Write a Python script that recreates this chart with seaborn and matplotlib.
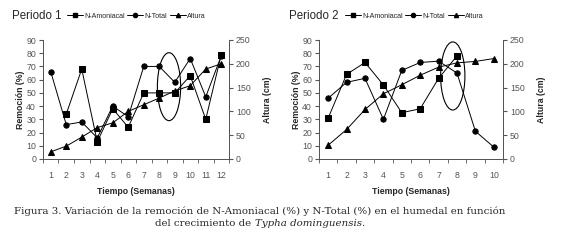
import matplotlib
matplotlib.use("Agg")
import matplotlib.pyplot as plt
import seaborn as sns
from matplotlib.lines import Line2D
from matplotlib.patches import Ellipse

# Periodo 1
weeks_p1 = [1, 2, 3, 4, 5, 6, 7, 8, 9, 10, 11, 12]
amon_weeks_p1 = [2, 3, 4, 5, 6, 7, 8, 9, 10, 11, 12]
amon_p1 = [34, 68, 13, 38, 24, 50, 50, 50, 63, 30, 79]
ntot_p1 = [66, 26, 28, 16, 40, 32, 70, 70, 58, 76, 47, 78]
altura_p1 = [15, 27, 46, 66, 76, 100, 114, 128, 143, 154, 189, 200]

# Periodo 2
weeks_p2 = [1, 2, 3, 4, 5, 6, 7, 8, 9, 10]
amon_weeks_p2 = [1, 2, 3, 4, 5, 6, 7, 8]
amon_p2 = [31, 64, 73, 56, 35, 38, 61, 78]
ntot_p2 = [46, 58, 61, 30, 67, 73, 74, 65, 21, 9]
altura_p2 = [29, 62, 104, 137, 156, 176, 193, 202, 205, 211]

sns.set_style("white")
plt.rcParams["font.family"] = ["Liberation Sans", "DejaVu Sans"]

fig = plt.figure(figsize=(5.71, 2.42), dpi=100)

grey = "#555555"
lw = 0.7
ms = 3.8


def panel(rect, weeks, aw, amon, ntot, altura, title, ell, title_x, leg_x):
    ax = fig.add_axes(rect)
    ax2 = ax.twinx()
    sns.lineplot(x=aw, y=amon, marker="s", color="black", lw=lw, markersize=ms,
                 markeredgecolor="black", ax=ax)
    sns.lineplot(x=weeks, y=ntot, marker="o", color="black", lw=lw, markersize=ms,
                 markeredgecolor="black", ax=ax)
    sns.lineplot(x=weeks, y=altura, marker="^", color="black", lw=lw, markersize=ms,
                 markeredgecolor="black", ax=ax2)
    n = len(weeks)
    ax.set_xlim(0.5, n + 0.5)
    ax.set_ylim(0, 90)
    ax2.set_ylim(0, 250)
    ax.set_yticks(range(0, 91, 10))
    ax2.set_yticks(range(0, 251, 50))
    ax.set_xticks(weeks)
    ax.set_xticks([w + 0.5 for w in range(0, n + 1)], minor=True)
    ax.tick_params(axis="x", which="major", length=0, labelsize=6.3, colors=grey, pad=9)
    ax.tick_params(axis="x", which="minor", length=3, direction="out", color=grey, bottom=True)
    ax.tick_params(axis="y", length=3, direction="out", labelsize=6.3, colors=grey, left=True, pad=2)
    ax2.tick_params(axis="y", length=3, direction="out", labelsize=6.3, colors=grey, right=True, pad=2)
    for a in (ax, ax2):
        a.spines["top"].set_visible(False)
        for s in ("left", "right", "bottom"):
            a.spines[s].set_color(grey)
            a.spines[s].set_linewidth(0.7)
    ax.set_xlabel("Tiempo (Semanas)", fontsize=6.3, fontweight="bold", labelpad=5)
    ax.set_ylabel("Remoción (%)", fontsize=6.3, fontweight="bold", labelpad=1)
    ax2.set_ylabel("Altura (cm)", fontsize=6.3, fontweight="bold", labelpad=9)
    ax.add_patch(Ellipse(ell[:2], ell[2], ell[3], fill=False, color="black", lw=0.8, zorder=5))

    fig.text(title_x, 1 - 16 / 242, title, fontsize=8.3, va="center", ha="left")
    handles = [
        Line2D([], [], color="black", marker="s", lw=lw, markersize=3),
        Line2D([], [], color="black", marker="o", lw=lw, markersize=3),
        Line2D([], [], color="black", marker="^", lw=lw, markersize=3),
    ]
    fig.legend(handles, ["N-Amoniacal", "N-Total", "Altura"], ncol=3, frameon=False,
               loc="center left", bbox_to_anchor=(leg_x, 1 - 16 / 242), fontsize=5.1,
               handlelength=2.2, handletextpad=0.2, columnspacing=0.4,
               borderpad=0, borderaxespad=0)


panel([43 / 571, 1 - 159 / 242, 186 / 571, 119 / 242], weeks_p1, amon_weeks_p1, amon_p1,
      ntot_p1, altura_p1, "Periodo 1", (8.63, 54.7, 1.5, 51.4), 12 / 571, 67 / 571)
panel([319 / 571, 1 - 159 / 242, 184 / 571, 119 / 242], weeks_p2, amon_weeks_p2, amon_p2,
      ntot_p2, altura_p2, "Periodo 2", (7.77, 62.8, 1.32, 51.5), 289 / 571, 345 / 571)

cap_font = ["DejaVu Serif"]
cap_x = 260 / 571
fig.text(cap_x, 1 - 211 / 242,
         "Figura 3. Variación de la remoción de N-Amoniacal (%) y N-Total (%) en el humedal en función",
         ha="center", va="center", fontsize=7.4, family=cap_font)
t1 = fig.text(0, 1 - 223 / 242, "del crecimiento de ", ha="left", va="center",
              fontsize=7.4, family=cap_font)
t2 = fig.text(0, 1 - 223 / 242, "Typha dominguensis.", ha="left", va="center",
              fontsize=7.4, family=cap_font, style="italic")
fig.canvas.draw()
r = fig.canvas.get_renderer()
w1 = t1.get_window_extent(r).width / fig.bbox.width
w2 = t2.get_window_extent(r).width / fig.bbox.width
x0 = cap_x - (w1 + w2) / 2
t1.set_x(x0)
t2.set_x(x0 + w1)

fig.savefig("out.png", dpi=100)
